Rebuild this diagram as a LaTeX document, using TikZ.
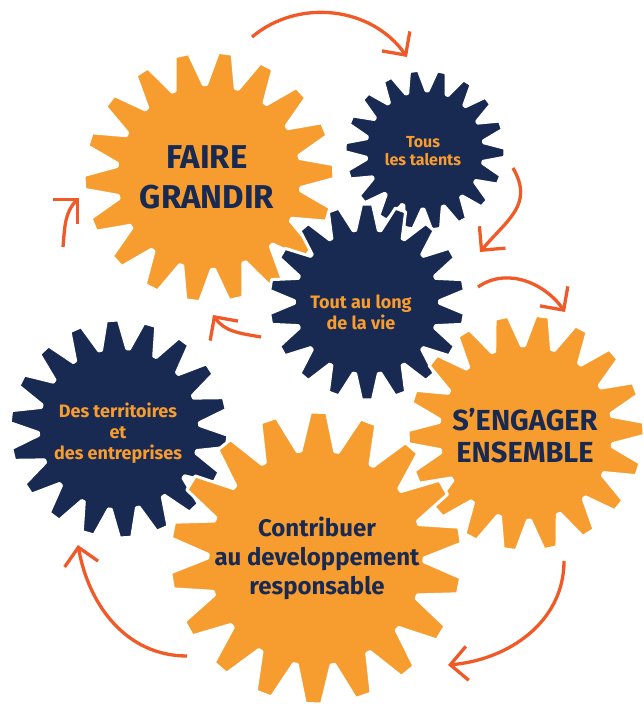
\documentclass[tikz,border=0pt]{standalone}
\usepackage{fontspec}
\setmainfont{Fira Sans}
\usetikzlibrary{arrows.meta}
\definecolor{cogorange}{RGB}{247,157,48}
\definecolor{cognavy}{RGB}{24,41,82}
\definecolor{arrowred}{RGB}{240,90,40}

% cog with 18 teeth: centre x, centre y, radius, phase, colour
\newcommand{\drawcog}[5]{%
  \filldraw[#5, draw=white, line width=3pt, line join=round, shift={(#1,#2)}]
    ({#4-9}:{0.74*#3})
    \foreach \i in {0,...,17} {
      -- ({#4+\i*20-9}:{0.74*#3}) -- ({#4+\i*20-3.2}:#3)
      -- ({#4+\i*20+3.2}:#3) -- ({#4+\i*20+9}:{0.74*#3})
    } -- cycle;
}

\begin{document}
\begin{tikzpicture}[x=1pt, y=1pt,
  onorange/.style={text=cognavy, align=center},
  onnavy/.style={text=cogorange, align=center},
  cyclearrow/.style={arrowred, line width=3.3pt, -{Straight Barb[length=17pt, width=34pt]}}]
\useasboundingbox (0,0) rectangle (643,704);

% cogs
\drawcog{209}{527}{125}{2.5}{cogorange}
\drawcog{425}{554}{80}{18}{cognavy}
\drawcog{367}{402}{98}{10}{cognavy}
\drawcog{526}{271}{118}{2}{cogorange}
\drawcog{119}{275}{109}{13.5}{cognavy}
\drawcog{316}{146}{146}{9}{cogorange}

% labels
\node[onorange, font={\bfseries\fontsize{33}{40}\selectfont}] (faire) at (207,527) {FAIRE\\GRANDIR};
\node[onnavy, font={\bfseries\fontsize{16}{18}\selectfont}] (talents) at (423,553) {Tous\\les talents};
\node[onnavy, font={\bfseries\fontsize{18}{21}\selectfont}] (vie) at (361,392) {Tout au long\\de la vie};
\node[onorange, font={\bfseries\fontsize{29}{32}\selectfont}] (engager) at (525,268) {S’ENGAGER\\ENSEMBLE};
\node[onnavy, font={\bfseries\fontsize{18}{21}\selectfont}] (territoires) at (118,271) {Des territoires\\et\\des entreprises};
\node[onorange, font={\bfseries\fontsize{24}{29}\selectfont}] (contribuer) at (317,146) {Contribuer\\au developpement\\responsable};

% arrows
\coordinate (a1s) at (252,667); \coordinate (a1e) at (407,647);
\coordinate (a2s) at (513,536); \coordinate (a2e) at (480,452);
\coordinate (a3s) at (478,417); \coordinate (a3e) at (565,392);
\coordinate (a4s) at (564,143); \coordinate (a4e) at (448,39);
\coordinate (a5s) at (187,48);  \coordinate (a5e) at (78,159);
\coordinate (a6s) at (63,457);  \coordinate (a6e) at (79,506);
\coordinate (a7s) at (261,367); \coordinate (a7e) at (213,389);
\draw[cyclearrow] (a1s) to[out=40, in=125] (a1e);
\draw[cyclearrow] (a2s) to[out=-60, in=50, looseness=1.2] (a2e);
\draw[cyclearrow] (a3s) to[out=35, in=125] (a3e);
\draw[cyclearrow] (a4s) to[out=-90, in=5] (a4e);
\draw[cyclearrow] (a5s) to[out=180, in=-80] (a5e);
\draw[cyclearrow] (a6s) to[out=85, in=-135] (a6e);
\draw[cyclearrow] (a7s) to[out=170, in=-55] (a7e);

\end{tikzpicture}
\end{document}
